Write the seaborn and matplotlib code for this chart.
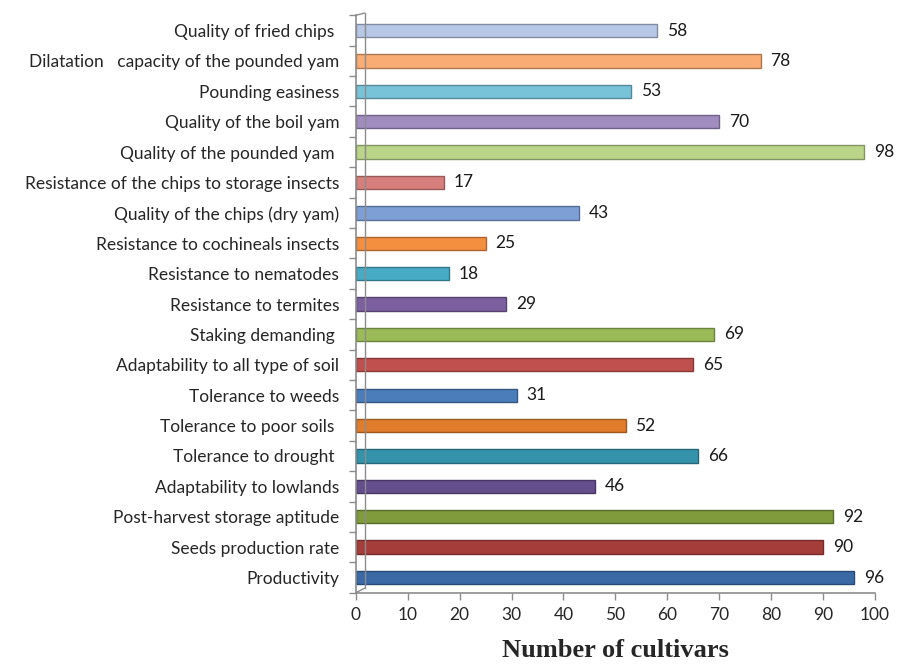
import matplotlib
matplotlib.use("Agg")
import matplotlib.pyplot as plt
import seaborn as sns
import pandas as pd
from matplotlib.colors import to_rgb

# Data, listed top to bottom as in the chart
traits = [
    "Quality of fried chips ",
    "Dilatation   capacity of the pounded yam",
    "Pounding easiness",
    "Quality of the boil yam",
    "Quality of the pounded yam ",
    "Resistance of the chips to storage insects",
    "Quality of the chips (dry yam)",
    "Resistance to cochineals insects",
    "Resistance to nematodes",
    "Resistance to termites",
    "Staking demanding ",
    "Adaptability to all type of soil",
    "Tolerance to weeds",
    "Tolerance to poor soils ",
    "Tolerance to drought ",
    "Adaptability to lowlands",
    "Post-harvest storage aptitude",
    "Seeds production rate",
    "Productivity",
]
cultivars = [58, 78, 53, 70, 98, 17, 43, 25, 18, 29, 69, 65, 31, 52, 66, 46, 92, 90, 96]
bar_colors = [
    "#b7c7e6", "#f9ac74", "#79c3d8", "#a08cbf", "#bad48a", "#d77f7c",
    "#7d9fd5", "#f58f40", "#47abc6", "#7c5f9f", "#9bbb59", "#c0504d",
    "#4b7dbb", "#e07c2c", "#3592ab", "#654e8c", "#7f9b3c", "#a53d3b",
    "#3b69a6",
]

df = pd.DataFrame({"trait": traits, "count": cultivars})

sns.set_style("white")
plt.rcParams["font.family"] = ["Lato", "DejaVu Sans"]

fig = plt.figure(figsize=(9.01, 6.66), dpi=100)
ax = fig.add_axes([0.395, 0.110, 0.576, 0.867])

sns.barplot(data=df, y="trait", x="count", hue="trait", palette=bar_colors,
            orient="h", width=0.44, legend=False, ax=ax, saturation=1)

# darker rims to suggest the cylinder look
for patch, col in zip(ax.patches, bar_colors):
    r, g, b = to_rgb(col)
    patch.set_edgecolor((r * 0.7, g * 0.7, b * 0.7))
    patch.set_linewidth(1.0)

for container in ax.containers:
    ax.bar_label(container, padding=7, fontsize=12.5, color="#1a1a1a")

axis_grey = "#8c8c8c"
ax.set_xlim(0, 100)
ax.set_ylim(len(traits) - 0.5, -0.5)
ax.set_xticks(range(0, 101, 10))
ax.tick_params(axis="x", length=5, width=1, color=axis_grey, labelsize=12.5,
               direction="out", bottom=True, pad=5)
ax.set_yticks(range(len(traits)))
ax.set_yticks([i + 0.5 for i in range(-1, len(traits))], minor=True)
ax.tick_params(axis="y", which="major", length=0, labelsize=12.5, pad=12)
ax.tick_params(axis="y", which="minor", length=5, width=1, color=axis_grey,
               direction="out", left=True)

for side in ["top", "right"]:
    ax.spines[side].set_visible(False)
for side in ["left", "bottom"]:
    ax.spines[side].set_color(axis_grey)
    ax.spines[side].set_linewidth(1.2)

# back wall line of the 3D frame
off = 0.017
ax.plot([off, off], [0.008, 1.0 + 0.004], transform=ax.transAxes,
        color=axis_grey, lw=1.0, clip_on=False)
ax.plot([0, off], [0, 0.008], transform=ax.transAxes,
        color=axis_grey, lw=1.0, clip_on=False)
ax.plot([0, off], [1.0, 1.004], transform=ax.transAxes,
        color=axis_grey, lw=1.0, clip_on=False)

ax.set_ylabel("")
ax.set_xlabel("Number of cultivars", fontsize=19, fontweight="bold",
              family=["Liberation Serif", "DejaVu Serif"], labelpad=12)

fig.savefig("out.png", dpi=100)
